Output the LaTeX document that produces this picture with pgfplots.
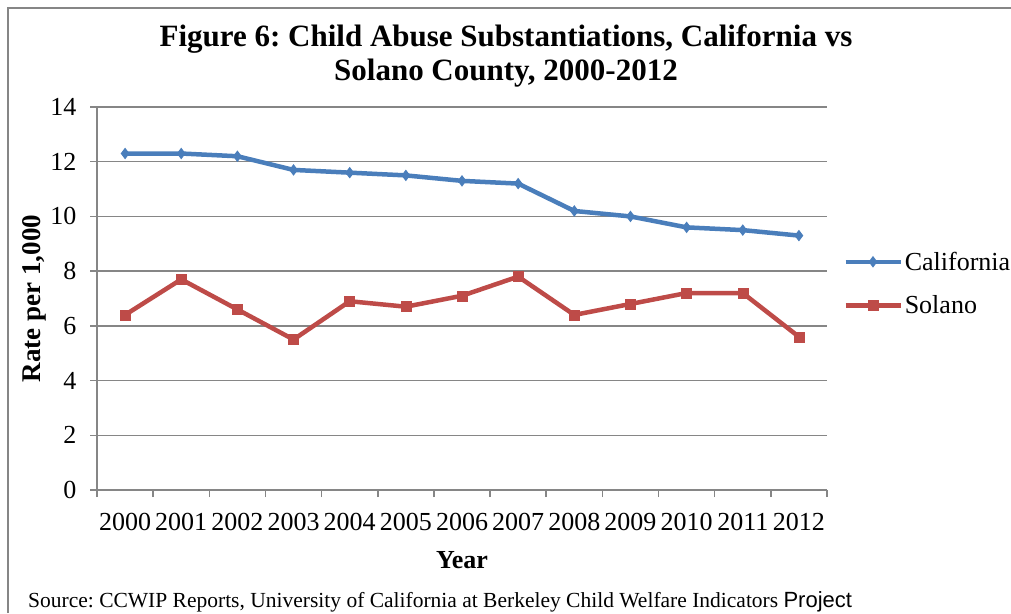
\documentclass[border=0pt]{standalone}
\usepackage{pgfplots}
\pgfplotsset{compat=1.18}
\usepackage{fontspec}
\setmainfont{Liberation Serif}
\newfontfamily\arialf{Liberation Sans}
\definecolor{cablue}{RGB}{74,126,187}
\definecolor{sored}{RGB}{190,75,72}
\definecolor{axgray}{RGB}{134,134,134}
\begin{document}
\frenchspacing
\begin{tikzpicture}[x=1pt,y=1pt]
\path[use as bounding box] (0,0) rectangle (1011,-613);
\draw[axgray,line width=1.5pt] (8,-613) -- (8,-8) -- (1011,-8);
\begin{axis}[
  at={(97pt,-490pt)}, anchor=south west,
  scale only axis, width=730pt, height=383pt,
  xmin=-0.5, xmax=12.5, ymin=0, ymax=14,
  axis x line=bottom, axis y line=left,
  axis line style={axgray, line width=1.5pt, -},
  xtick={0,...,12},
  xticklabels={2000,2001,2002,2003,2004,2005,2006,2007,2008,2009,2010,2011,2012},
  minor xtick={-0.5,0.5,...,12.5},
  ytick={0,2,...,14},
  major x tick style={draw=none},
  tick align=outside,
  major tick length=7pt, minor tick length=7pt,
  every tick/.style={axgray, line width=1.5pt},
  ymajorgrids, grid style={axgray, line width=1.5pt},
  /pgf/number format/assume math mode=true,
  tick label style={font=\fontsize{26}{28}\selectfont},
  xticklabel style={yshift=-13pt},
  yticklabel style={xshift=-10pt},
  xlabel={\textbf{Year}}, ylabel={\textbf{Rate per 1,000}},
  xlabel style={font=\fontsize{26}{28}\selectfont, yshift=-14pt},
  ylabel style={font=\fontsize{27}{29}\selectfont, yshift=-3pt},
  legend style={draw=none, fill=none, at={(1.022,0.539)}, anchor=west,
    font=\fontsize{26}{28}\selectfont, row sep=20pt, inner sep=0pt,
    /tikz/every even column/.append style={column sep=3pt}},
  legend cell align=left,
  legend image code/.code={\draw[#1,mark repeat=2,mark phase=2] plot coordinates {(0pt,0pt)(27.5pt,0pt)(55pt,0pt)};},
  clip=false,
]
\addplot[cablue, line width=4.5pt, mark=diamond*, mark size=5pt, mark options={line width=1pt}] coordinates {
(0,12.3)(1,12.3)(2,12.2)(3,11.7)(4,11.6)(5,11.5)(6,11.3)(7,11.2)(8,10.2)(9,10.0)(10,9.6)(11,9.5)(12,9.3)};
\addlegendentry{California}
\addplot[sored, line width=4.5pt, mark=square*, mark size=5pt, mark options={line width=0.5pt}] coordinates {
(0,6.4)(1,7.7)(2,6.6)(3,5.5)(4,6.9)(5,6.7)(6,7.1)(7,7.8)(8,6.4)(9,6.8)(10,7.2)(11,7.2)(12,5.6)};
\addlegendentry{Solano}
\end{axis}
\node[font=\fontsize{31}{34}\selectfont\bfseries, align=center] at (506,-56) {Figure 6: Child Abuse Substantiations, California vs\\Solano County, 2000-2012};
\node[anchor=base west, inner sep=0pt, font=\fontsize{21.5}{24}\selectfont] at (28,-607) {Source: CCWIP Reports, University of California at Berkeley Child Welfare Indicators {\arialf\fontsize{22}{24}\selectfont Project}};
\end{tikzpicture}
\end{document}
